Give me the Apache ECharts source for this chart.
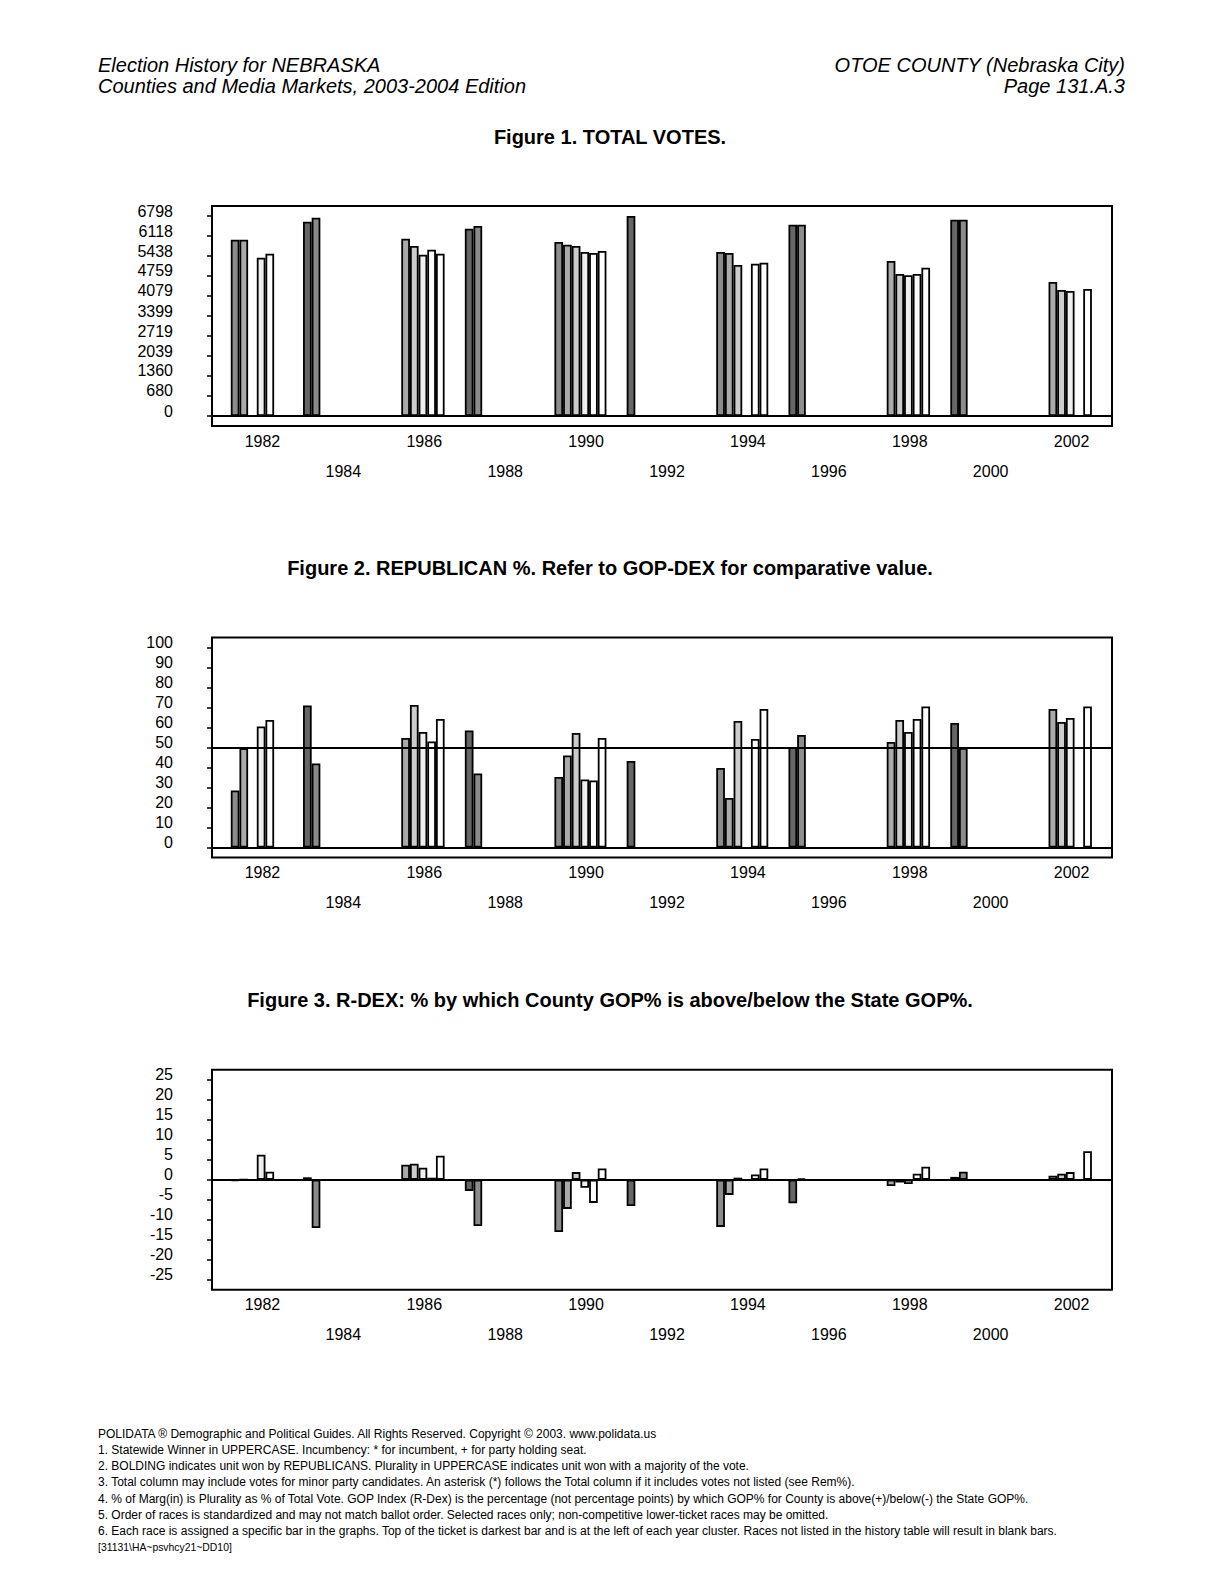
<!DOCTYPE html>
<html>
<head>
<meta charset="utf-8">
<title>OTOE COUNTY (Nebraska City) - Election History</title>
<script src="https://cdn.jsdelivr.net/npm/echarts@6/dist/echarts.min.js"></script>
<style>
  html, body { margin: 0; padding: 0; background: #ffffff; }
  #chart { width: 1224px; height: 1583px; }
</style>
</head>
<body>
<div id="chart"></div>
<script>
// ---------- DATA ----------
const years = ['1982','1984','1986','1988','1990','1992','1994','1996','1998','2000','2002'];

// Figure 1. TOTAL VOTES (bar slot 1 = top of ticket ... slot 7)
const votesBar1 = [null, 6606, null, 6368, null, 6798, null, 6504, null, 6674, null];
const votesBar2 = [5994, 6742, null, 6459, 5915, null, 5575, 6504, null, 6674, null];
const votesBar3 = [5994, null, 6028, null, 5824, null, 5541, null, 5269, null, 4556];
const votesBar4 = [null, null, 5779, null, 5779, null, 5133, null, 4827, null, 4284];
const votesBar5 = [5382, null, 5484, null, 5575, null, null, null, 4782, null, 4250];
const votesBar6 = [5518, null, 5654, null, 5541, null, 5179, null, 4827, null, null];
const votesBar7 = [null, null, 5518, null, 5609, null, 5213, null, 5043, null, 4318];
const votesTicks = [0, 680, 1360, 2039, 2719, 3399, 4079, 4759, 5438, 6118, 6798];

// Figure 2. REPUBLICAN %
const repBar1 = [null, 71.0, null, 58.5, null, 43.3, null, 50.3, null, 62.3, null];
const repBar2 = [28.5, 42.0, null, 37.0, 35.3, null, 39.8, 56.3, null, 49.8, null];
const repBar3 = [49.7, null, 54.8, null, 46.0, null, 24.8, null, 52.8, null, 69.3];
const repBar4 = [null, null, 71.3, null, 57.3, null, 63.3, null, 63.8, null, 62.8];
const repBar5 = [60.5, null, 57.8, null, 34.0, null, null, null, 57.8, null, 64.8];
const repBar6 = [63.8, null, 53.0, null, 33.5, null, 54.3, null, 64.3, null, null];
const repBar7 = [null, null, 64.3, null, 54.8, null, 69.3, null, 70.5, null, 70.5];
const repTicks = [0, 10, 20, 30, 40, 50, 60, 70, 80, 90, 100];
const repReference = 50;

// Figure 3. R-DEX
const rdexBar1 = [null, 0.6, null, -2.8, null, -6.6, null, -5.9, null, 0.7, null];
const rdexBar2 = [-0.3, -12.1, null, -11.6, -13.1, null, -11.8, 0.3, null, 2.0, null];
const rdexBar3 = [0, null, 3.75, null, -7.3, null, -3.8, null, -1.6, null, 1.0];
const rdexBar4 = [null, null, 4.0, null, 1.9, null, 0.5, null, -0.7, null, 1.5];
const rdexBar5 = [6.25, null, 3.0, null, -2.0, null, null, null, -1.1, null, 1.9];
const rdexBar6 = [2.0, null, 0.5, null, -5.8, null, 1.3, null, 1.5, null, null];
const rdexBar7 = [null, null, 6.0, null, 2.8, null, 2.8, null, 3.25, null, 7.1];
const rdexTicks = [-25, -20, -15, -10, -5, 0, 5, 10, 15, 20, 25];

// ---------- STYLE / LAYOUT ----------
const FONT = '"Liberation Sans", Arial, Helvetica, sans-serif';
const slotColors = ['#666666', '#8c8c8c', '#aaaaaa', '#cccccc', '#efefef', '#ffffff', '#ffffff'];

const figs = [
  { top: 206,    min: -339.9, max: 7137.9, ticks: votesTicks,
    bars: [votesBar1, votesBar2, votesBar3, votesBar4, votesBar5, votesBar6, votesBar7] },
  { top: 637.5,  min: -5, max: 105, ticks: repTicks, ref: repReference,
    bars: [repBar1, repBar2, repBar3, repBar4, repBar5, repBar6, repBar7] },
  { top: 1069.7, min: -27.5, max: 27.5, ticks: rdexTicks,
    bars: [rdexBar1, rdexBar2, rdexBar3, rdexBar4, rdexBar5, rdexBar6, rdexBar7] }
];

const grid = [], xAxis = [], yAxis = [], series = [];

figs.forEach((f, k) => {
  const frameIdx = k * 2, dataIdx = k * 2 + 1;
  // frame grid (box, y labels, zero line)
  grid.push({ left: 212, top: f.top, width: 900, height: 220, show: true,
              borderColor: '#000', borderWidth: 2, backgroundColor: 'transparent' });
  // data grid (category layout for bars)
  grid.push({ left: 212, top: f.top, width: 890, height: 220, show: false });

  xAxis.push({
    type: 'value', gridIndex: frameIdx, min: 0, max: 1,
    axisLine: { show: true, onZero: true, lineStyle: { color: '#000', width: 2 } },
    axisTick: { show: false }, axisLabel: { show: false }, splitLine: { show: false }
  });
  xAxis.push({
    type: 'category', gridIndex: dataIdx, data: years, boundaryGap: true,
    axisLine: { show: false, onZero: false }, axisTick: { show: false }, splitLine: { show: false },
    axisLabel: {
      interval: 0, margin: 0, color: '#000', fontFamily: FONT, fontSize: 16,
      lineHeight: 30, padding: [0, 0, 0, 20],
      formatter: (v, i) => (i % 2 ? '\n' + v : v)
    }
  });

  yAxis.push({
    type: 'value', gridIndex: frameIdx, min: f.min, max: f.max,
    axisLine: { show: false }, splitLine: { show: false },
    axisTick: { show: true, length: 5, customValues: f.ticks,
                lineStyle: { color: '#000', width: 1.5 } },
    axisLabel: { customValues: f.ticks, color: '#000', fontFamily: FONT, fontSize: 16,
                 margin: 39, formatter: v => '{t|' + String(v) + '}',
                 rich: { t: { fontFamily: FONT, fontSize: 16, color: '#000', padding: [0, 0, 10, 0] } } }
  });
  yAxis.push({ type: 'value', gridIndex: dataIdx, min: f.min, max: f.max, show: false });

  f.bars.forEach((vals, s) => {
    series.push({
      type: 'bar', xAxisIndex: dataIdx, yAxisIndex: dataIdx, data: vals,
      barWidth: 8.67, barGap: '0%', silent: true,
      itemStyle: { color: slotColors[s], borderColor: '#000', borderWidth: 1.8 }
    });
  });

  if (f.ref !== undefined) {
    series.push({
      type: 'line', xAxisIndex: frameIdx, yAxisIndex: frameIdx, data: [], silent: true,
      markLine: { silent: true, symbol: ['none', 'none'], label: { show: false },
                  lineStyle: { color: '#000', width: 2, type: 'solid' },
                  emphasis: { disabled: true },
                  data: [{ yAxis: f.ref }] }
    });
  }
});

// ---------- TEXTS ----------
const headerFont = 'italic 20px ' + FONT;
const titleFont = 'bold 20px ' + FONT;
const footFont = '12px ' + FONT;
function txt(text, x, y, font, align) {
  return { type: 'text', x: x, y: y, silent: true,
           style: { text: text, font: font, fill: '#000', align: align || 'left', verticalAlign: 'middle' } };
}
const footer = [
  'POLIDATA \u00AE Demographic and Political Guides. All Rights Reserved. Copyright \u00A9 2003. www.polidata.us',
  '1. Statewide Winner in UPPERCASE. Incumbency: * for incumbent, + for party holding seat.',
  '2. BOLDING indicates unit won by REPUBLICANS. Plurality in UPPERCASE indicates unit won with a majority of the vote.',
  '3. Total column may include votes for minor party candidates. An asterisk (*) follows the Total column if it includes votes not listed (see Rem%).',
  '4. % of Marg(in) is Plurality as % of Total Vote. GOP Index (R-Dex) is the percentage (not percentage points) by which GOP% for County is above(+)/below(-) the State GOP%.',
  '5. Order of races is standardized and may not match ballot order. Selected races only; non-competitive lower-ticket races may be omitted.',
  '6. Each race is assigned a specific bar in the graphs. Top of the ticket is darkest bar and is at the left of each year cluster. Races not listed in the history table will result in blank bars.'
];
const graphic = [
  txt('Election History for NEBRASKA', 98, 65, headerFont),
  txt('Counties and Media Markets, 2003-2004 Edition', 98, 86, headerFont),
  txt('OTOE COUNTY (Nebraska City)', 1125, 65, headerFont, 'right'),
  txt('Page 131.A.3', 1125, 86, headerFont, 'right'),
  txt('Figure 1. TOTAL VOTES.', 610, 137, titleFont, 'center'),
  txt('Figure 2. REPUBLICAN %. Refer to GOP-DEX for comparative value.', 610, 568, titleFont, 'center'),
  txt('Figure 3. R-DEX: % by which County GOP% is above/below the State GOP%.', 610, 1000, titleFont, 'center')
];
footer.forEach((line, i) => graphic.push(txt(line, 98, 1434 + i * 16.15, footFont)));
graphic.push(txt('[31131\\HA~psvhcy21~DD10]', 98, 1547, '10.4px ' + FONT));

const chart = echarts.init(document.getElementById('chart'), null, { renderer: 'svg' });
chart.setOption({
  backgroundColor: '#ffffff',
  animation: false,
  grid: grid, xAxis: xAxis, yAxis: yAxis, series: series,
  graphic: graphic
});
</script>
</body>
</html>
